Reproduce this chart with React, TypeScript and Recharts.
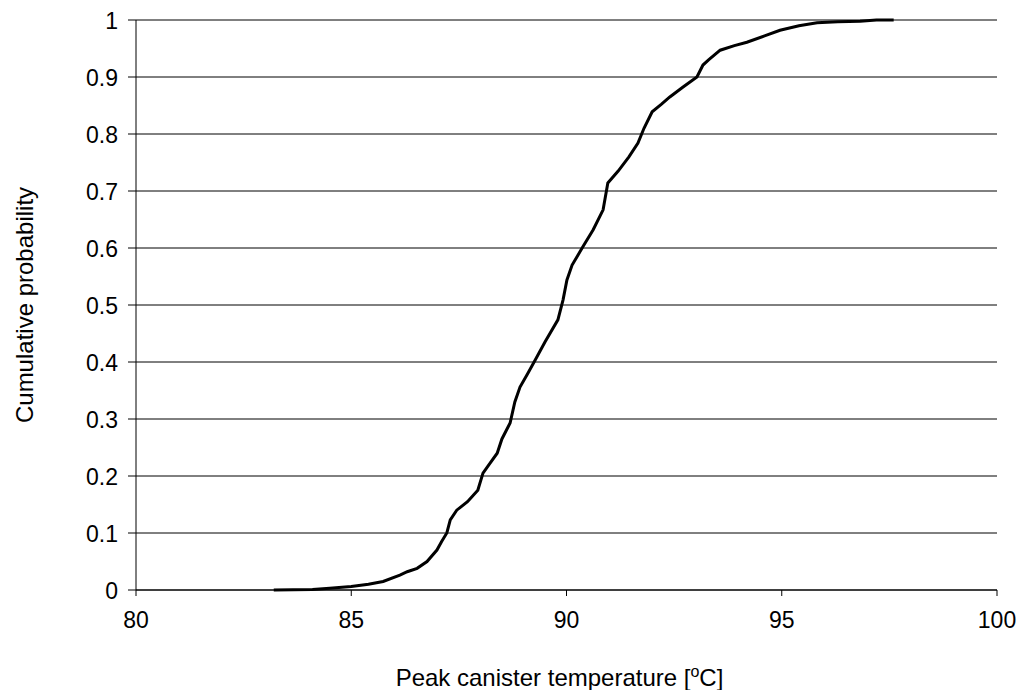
import React from 'react';
import { LineChart, Line, XAxis, YAxis, CartesianGrid } from 'recharts';

// Peak canister temperature samples (deg C) and their cumulative probability
const temperatures = [
    83.2, 84.1, 84.5, 85.0, 85.4, 85.74, 86.13, 86.3, 86.53, 86.76, 86.99, 87.1, 87.22, 87.3,
    87.45, 87.7, 87.94, 88.06, 88.2, 88.39, 88.5, 88.69, 88.8, 88.92, 89.1, 89.27, 89.5, 89.8,
    89.92, 90.01, 90.13, 90.38, 90.62, 90.85, 90.96, 91.2, 91.45, 91.66, 91.8, 91.99, 92.2, 92.4,
    92.7, 93.03, 93.17, 93.3, 93.57, 93.9, 94.19, 94.6, 94.96, 95.4, 95.82, 96.3, 96.82, 97.2, 97.6,
];
const probabilities = [
    0, 0.001, 0.003, 0.006, 0.01, 0.015, 0.026, 0.032, 0.038, 0.05, 0.07, 0.085, 0.1, 0.123,
    0.14, 0.155, 0.175, 0.205, 0.22, 0.24, 0.265, 0.293, 0.33, 0.356, 0.38, 0.403, 0.435, 0.474,
    0.509, 0.544, 0.57, 0.602, 0.632, 0.667, 0.714, 0.735, 0.76, 0.784, 0.81, 0.839, 0.852, 0.865,
    0.882, 0.9, 0.921, 0.93, 0.947, 0.955, 0.961, 0.972, 0.982, 0.99, 0.995, 0.997, 0.998, 1, 1,
];

const xTicks = [80, 85, 90, 95, 100];
const yTicks = [0, 0.1, 0.2, 0.3, 0.4, 0.5, 0.6, 0.7, 0.8, 0.9, 1];

const data = temperatures.map((t, i) => ({ temp: t, prob: probabilities[i] }));

const font = '"Liberation Sans", Arial, sans-serif';

const XTick = (props: any) => {
    const { x, y, payload } = props;
    return (
        <text x={x} y={y} dy={16} textAnchor="middle" fontSize={23} fontFamily={font} fill="#000">
            {String(payload.value)}
        </text>
    );
};

const YTick = (props: any) => {
    const { x, y, payload } = props;
    return (
        <text x={x} y={y} dy={8.5} textAnchor="end" fontSize={23} fontFamily={font} fill="#000">
            {String(payload.value)}
        </text>
    );
};

// x-axis title with a superscript "o" for degrees
const XTitle = (props: any) => {
    const vb = props.viewBox || {};
    const cx = vb.x + vb.width / 2 - 7;
    const y = vb.y + vb.height - 4;
    return (
        <text x={cx} y={y} textAnchor="middle" fontSize={24} fontFamily={font} fill="#000">
            <tspan>Peak canister temperature [</tspan>
            <tspan dy={-9} fontSize={16}>o</tspan>
            <tspan dy={9}>C]</tspan>
        </text>
    );
};

const YTitle = (props: any) => {
    const vb = props.viewBox || {};
    const x = 33;
    const y = vb.y + vb.height / 2;
    return (
        <text
            x={x}
            y={y}
            transform={`rotate(-90 ${x} ${y})`}
            textAnchor="middle"
            fontSize={24}
            fontFamily={font}
            fill="#000"
        >
            Cumulative probability
        </text>
    );
};

const App: React.FC = () => {
    return (
        <div style={{ position: 'absolute', left: 0, top: 0, width: 1018, height: 690, background: '#fff', fontFamily: font }}>
            <LineChart
                width={1018}
                height={690}
                data={data}
                margin={{ top: 20, right: 21, left: 0, bottom: 0 }}
            >
                <CartesianGrid horizontal={true} vertical={false} stroke="#000" strokeWidth={1} />
                <XAxis
                    dataKey="temp"
                    type="number"
                    domain={[80, 100]}
                    ticks={xTicks}
                    height={100}
                    tickSize={6}
                    tickMargin={16}
                    tick={<XTick />}
                    stroke="#000"
                    label={<XTitle />}
                />
                <YAxis
                    type="number"
                    domain={[0, 1]}
                    ticks={yTicks}
                    width={136}
                    tickSize={8}
                    tickMargin={10}
                    tick={<YTick />}
                    stroke="#000"
                    label={<YTitle />}
                />
                <Line
                    type="linear"
                    dataKey="prob"
                    stroke="#000"
                    strokeWidth={3}
                    dot={false}
                    isAnimationActive={false}
                />
            </LineChart>
        </div>
    );
};

export default App;
